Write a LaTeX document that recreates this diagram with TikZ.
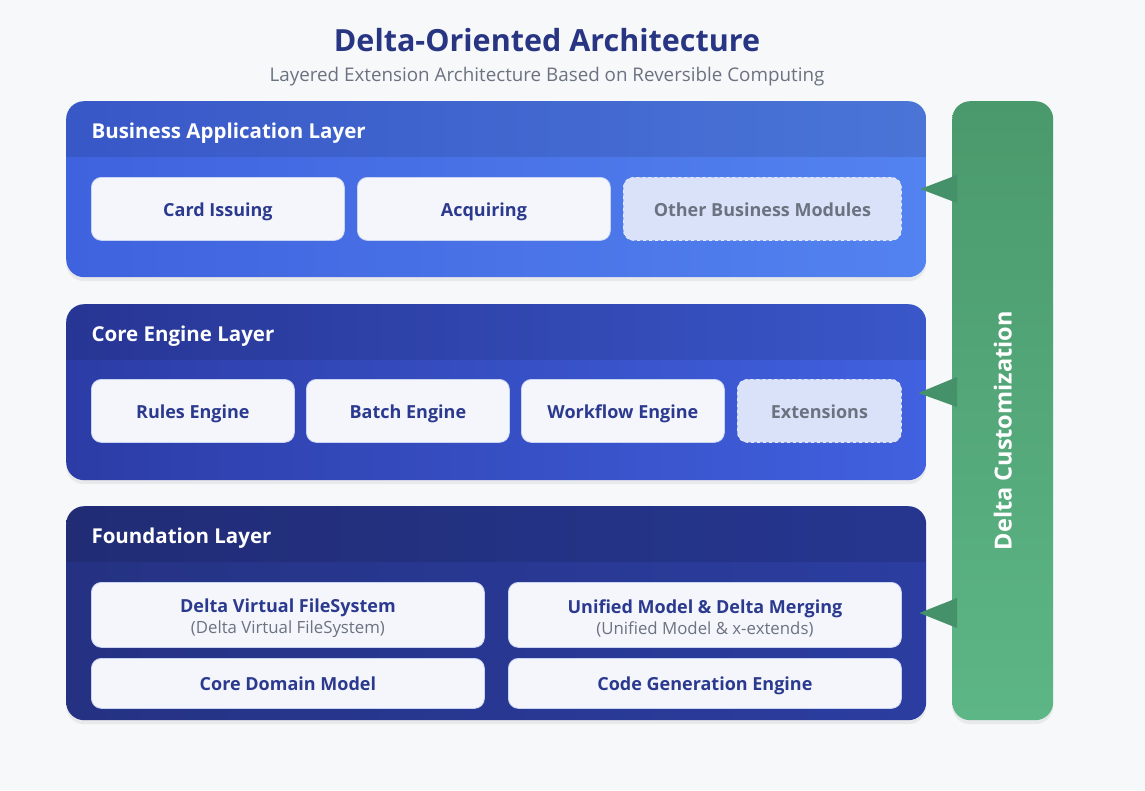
\documentclass[tikz,border=0pt]{standalone}
\usepackage{fontspec}
\setmainfont{Open Sans}
\usetikzlibrary{shadows,calc}
\definecolor{bgc}{HTML}{F7F8FA}
\definecolor{titlec}{HTML}{283583}
\definecolor{subc}{HTML}{6B7280}
\definecolor{boxc}{HTML}{F4F6FC}
\definecolor{boxline}{HTML}{C9D3F2}
\definecolor{dashfill}{HTML}{DAE2FA}
\definecolor{textc}{HTML}{2B3A8E}
\definecolor{grayt}{HTML}{6B7280}
\definecolor{aL}{HTML}{3F62DE}
\definecolor{aR}{HTML}{5383F0}
\definecolor{bL}{HTML}{2C3CA6}
\definecolor{bR}{HTML}{4161E0}
\definecolor{cL}{HTML}{253283}
\definecolor{cR}{HTML}{2B3DA0}
\definecolor{gT}{HTML}{4A996C}
\definecolor{gB}{HTML}{5DB686}
\definecolor{triC}{HTML}{45916A}
\tikzset{
  layer/.style={anchor=north west, rounded corners=18pt, minimum width=860pt, inner sep=0pt,
    drop shadow={opacity=0.12, shadow xshift=0pt, shadow yshift=-4pt}},
  hdr/.style={anchor=west, text=white, font=\fontsize{20.5}{24}\selectfont\bfseries},
  mod/.style={anchor=north west, rounded corners=10pt, fill=boxc, draw=boxline, line width=0.8pt,
    inner sep=0pt, text=textc, font=\fontsize{18}{22}\selectfont\bfseries, align=center},
  one/.style={text height=16pt, text depth=0pt},
  modx/.style={mod, fill=dashfill, draw=white!60!boxline, dashed, text=grayt},
  tri/.style={fill=triC},
}
\newcommand{\subline}[1]{{\fontsize{16.8}{19}\selectfont\mdseries\color{grayt}#1}}
\begin{document}
\begin{tikzpicture}[x=1pt,y=-1pt]
\fill[bgc] (0,0) rectangle (1145,790);
\useasboundingbox (0,0) rectangle (1145,790);

\node[text=titlec, font=\fontsize{30.5}{36}\selectfont\bfseries] (title) at (547,40) {Delta-Oriented Architecture};
\node[text=subc, font=\fontsize{18.8}{22}\selectfont] (sub) at (547,77) {Layered Extension Architecture Based on Reversible Computing};

% Layer 1
\node[layer, minimum height=176pt, left color=aL, right color=aR] (L1) at (66,101) {};
\begin{scope}
  \clip[rounded corners=18pt] (L1.north west) rectangle (L1.south east);
  \fill[black, opacity=0.1] (L1.north west) rectangle ($(L1.north east)+(0,56)$);
\end{scope}
\node[hdr] (h1) at ($(L1.north west)+(22,32)$) {Business Application Layer};
\node[mod, one, minimum width=253pt, minimum height=63pt] (m11) at (91,177) {Card Issuing};
\node[mod, one, minimum width=253pt, minimum height=63pt] (m12) at (357,177) {Acquiring};
\node[modx, one, minimum width=278pt, minimum height=63pt] (m13) at (623,177) {Other Business Modules};

% Layer 2
\node[layer, minimum height=176pt, left color=bL, right color=bR] (L2) at (66,304) {};
\begin{scope}
  \clip[rounded corners=18pt] (L2.north west) rectangle (L2.south east);
  \fill[black, opacity=0.1] (L2.north west) rectangle ($(L2.north east)+(0,56)$);
\end{scope}
\node[hdr] (h2) at ($(L2.north west)+(22,32)$) {Core Engine Layer};
\node[mod, one, minimum width=203pt, minimum height=63pt] (m21) at (91,379) {Rules Engine};
\node[mod, one, minimum width=203pt, minimum height=63pt] (m22) at (306,379) {Batch Engine};
\node[mod, one, minimum width=203pt, minimum height=63pt] (m23) at (521,379) {Workflow Engine};
\node[modx, one, minimum width=164pt, minimum height=63pt] (m24) at (737,379) {Extensions};

% Layer 3
\node[layer, minimum height=214pt, left color=cL, right color=cR] (L3) at (66,506) {};
\begin{scope}
  \clip[rounded corners=18pt] (L3.north west) rectangle (L3.south east);
  \fill[black, opacity=0.1] (L3.north west) rectangle ($(L3.north east)+(0,56)$);
\end{scope}
\node[hdr] (h3) at ($(L3.north west)+(22,32)$) {Foundation Layer};
\node[mod, minimum width=393pt, minimum height=65pt] (m31) at (91,582) {\rule{0pt}{20pt}Delta Virtual FileSystem\\[-1pt]\subline{(Delta Virtual FileSystem)}};
\node[mod, minimum width=393pt, minimum height=65pt] (m32) at (508,582) {\rule{0pt}{20pt}Unified Model \& Delta Merging\\[-1pt]\subline{(Unified Model \& x-extends)}};
\node[mod, text height=15pt, text depth=0pt, minimum width=393pt, minimum height=50pt] (m33) at (91,658) {Core Domain Model};
\node[mod, text height=15pt, text depth=0pt, minimum width=393pt, minimum height=50pt] (m34) at (508,658) {Code Generation Engine};

% Green bar
\node[anchor=north west, rounded corners=18pt, minimum width=101pt, minimum height=619pt, inner sep=0pt,
  top color=gT, bottom color=gB, drop shadow={opacity=0.12, shadow xshift=0pt, shadow yshift=-4pt}] (G) at (952,101) {};
\node[rotate=90, text=white, font=\fontsize{23.5}{28}\selectfont\bfseries] (gt) at ($(G.center)+(0,20)$) {Delta Customization};

% pointers
\fill[tri] ($(G.north west)+(5,74)$) -- ($(L1.north east)+(-6,88)$) -- ($(G.north west)+(5,102)$) -- cycle;
\fill[tri] ($(G.north west)+(5,276)$) -- ($(L2.north east)+(-8,89)$) -- ($(G.north west)+(5,306)$) -- cycle;
\fill[tri] ($(G.north west)+(5,497)$) -- ($(L3.north east)+(-7,107)$) -- ($(G.north west)+(5,527)$) -- cycle;
\end{tikzpicture}
\end{document}
